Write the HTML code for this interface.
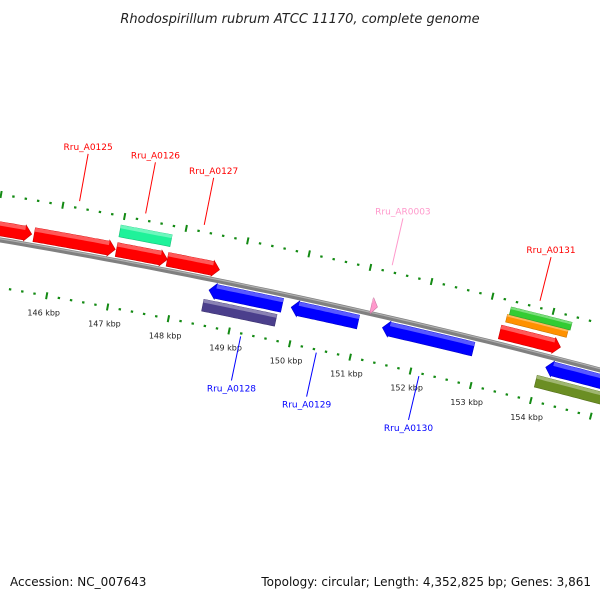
<!DOCTYPE html>
<html><head><meta charset="utf-8"><style>
html,body{margin:0;padding:0;background:#fff;}
svg{display:block;font-family:"DejaVu Sans","Liberation Sans",sans-serif;}
</style></head><body>
<svg id="map" width="600" height="600" viewBox="0 0 600 600">
<text x="300" y="23" text-anchor="middle" font-size="13" font-style="italic" fill="#222">Rhodospirillum rubrum ATCC 11170, complete genome</text>
<g id="ticks"></g>
<g id="genes"></g>
<g id="labels"></g>
<text x="10" y="586" font-size="12" fill="#111">Accession: NC_007643</text>
<text x="591" y="586" text-anchor="end" font-size="12" fill="#111">Topology: circular; Length: 4,352,825 bp; Genes: 3,861</text>
</svg>
<script>
// data
const tickStart = 143.0, tickEnd = 156.0, tickStep = 0.2;
const tickLabelMax = 154.5;
const geneNames = ['g1','Rru_A0125','Rru_A0126','Rru_A0127','teal','Rru_A0128','purple','Rru_A0129','Rru_A0130','Rru_A0131','orange','green','g14','olive','Rru_AR0003'];
const geneStarts = [144.3,145.63,146.97,147.8,146.97,148.55,148.5,149.9,151.4,153.25,153.3,153.33,154.1,154.0,151.15];
const geneEnds   = [145.59,146.95,147.8,148.65,147.8,149.75,149.7,151.0,152.9,154.25,154.3,154.33,155.6,155.6,151.25];
const geneStrand = [1,1,1,1,0,-1,0,-1,-1,1,0,0,-1,0,1];
const geneRing   = [11,11,11,11,30,-11,-27,-11,-11,12,27,35,-11,-27,8];
const geneColors = ['#ff0000','#ff0000','#ff0000','#ff0000','#1ff29a','#0000ff','#4b3f8c','#0000ff','#0000ff','#ff0000','#ff9100','#33cc33','#0000ff','#6b8e23','#ff99cc'];
const labelTexts = ['Rru_A0125','Rru_A0126','Rru_A0127','Rru_AR0003','Rru_A0131','Rru_A0128','Rru_A0129','Rru_A0130'];
const labelKbp   = [146.25,147.32,148.27,151.33,153.75,149.2,150.45,152.15];
const labelSide  = [1,1,1,1,1,-1,-1,-1];
const labelColors= ['#ff0000','#ff0000','#ff0000','#ff99cc','#ff0000','#0000ff','#0000ff','#0000ff'];
const labelLines = [48,52,48,48,45,45,45,45];

const NS='http://www.w3.org/2000/svg';
const CX=-1157.5, CY=7032, R=6890, T0=-1.3939, TK=0.00905;
function th(k){return T0+(k-146)*TK;}
function pt(k,off){const t=th(k);return [CX+(R+off)*Math.cos(t),CY+(R+off)*Math.sin(t)];}
function mk(tag,attrs,parent){const e=document.createElementNS(NS,tag);for(const a in attrs)e.setAttribute(a,attrs[a]);parent.appendChild(e);return e;}
const tg=document.getElementById('ticks'), gg=document.getElementById('genes'), lg=document.getElementById('labels');

function arcPath(k1,k2,off){let d='';const n=60;for(let i=0;i<=n;i++){const p=pt(k1+(k2-k1)*i/n,off);d+=(i?'L':'M')+p[0].toFixed(1)+','+p[1].toFixed(1);}return d;}
const bb=mk('path',{d:arcPath(143,156.5,0),stroke:'#808080','stroke-width':5,fill:'none'},gg);


const bb2=mk('path',{d:arcPath(143,156.5,1.2),stroke:'#b0b0b0','stroke-width':1.2,fill:'none'},gg);



const nT=Math.round((tickEnd-tickStart)/tickStep);
for(let i=0;i<=nT;i++){
  const k=tickStart+i*tickStep;
  const major=Math.abs(k-Math.round(k))<1e-6;
  [45,-47].forEach(off=>{
    const len=major?7:2.2;
    const a=pt(k,off-len/2), b=pt(k,off+len/2);
    const l=mk('line',{x1:a[0],y1:a[1],x2:b[0],y2:b[1],stroke:'#138a13','stroke-width':major?2:2.4},tg);
    
    
  });
  if(major && k<=tickLabelMax){
    const p=pt(k,-64);
    const t=mk('text',{x:p[0],y:p[1]+3,'text-anchor':'middle','font-size':8,fill:'#222'},tg);
    t.textContent=Math.round(k)+' kbp';
    
    
  }
}

function shade(hex,f){const n=parseInt(hex.slice(1),16);let r=n>>16,g=(n>>8)&255,b=n&255;r=Math.round(r+(255-r)*f);g=Math.round(g+(255-g)*f);b=Math.round(b+(255-b)*f);return 'rgb('+r+','+g+','+b+')';}
function dark(hex,f){const n=parseInt(hex.slice(1),16);return 'rgb('+Math.round((n>>16)*f)+','+Math.round(((n>>8)&255)*f)+','+Math.round((n&255)*f)+')';}
for(let i=0;i<geneNames.length;i++){
  const k1=geneStarts[i],k2=geneEnds[i],s=geneStrand[i],r=geneRing[i];
  const h=(s===0)?(r===27||r===35?8:12):14;
  const headK=Math.min(7/R/TK,(k2-k1)*0.9);
  let pts=[];
  const n=20;
  if(s===0){
    for(let j=0;j<=n;j++)pts.push(pt(k1+(k2-k1)*j/n,r+h/2));
    for(let j=n;j>=0;j--)pts.push(pt(k1+(k2-k1)*j/n,r-h/2));
  }else if(s===1){
    const kb=k2-headK;
    for(let j=0;j<=n;j++)pts.push(pt(k1+(kb-k1)*j/n,r+h/2));
    pts.push(pt(kb,r+h/2+1));pts.push(pt(k2,r));pts.push(pt(kb,r-h/2-1));
    for(let j=n;j>=0;j--)pts.push(pt(k1+(kb-k1)*j/n,r-h/2));
  }else{
    const kb=k1+headK;
    pts.push(pt(k1,r));pts.push(pt(kb,r+h/2+1));
    for(let j=0;j<=n;j++)pts.push(pt(kb+(k2-kb)*j/n,r+h/2));
    for(let j=n;j>=0;j--)pts.push(pt(kb+(k2-kb)*j/n,r-h/2));
    pts.push(pt(kb,r-h/2-1));
  }
  const g=mk('g',{},gg);
  
  
  mk('polygon',{points:pts.map(p=>p[0].toFixed(1)+','+p[1].toFixed(1)).join(' '),fill:geneColors[i],stroke:dark(geneColors[i],0.8),'stroke-width':0.6},g);
  const a=(s===-1)?k1+headK:k1, b=(s===1)?k2-headK:k2;
  let hp=[];
  for(let j=0;j<=n;j++)hp.push(pt(a+(b-a)*j/n,r+h/2));
  for(let j=n;j>=0;j--)hp.push(pt(a+(b-a)*j/n,r+h/2-h*0.28));
  mk('polygon',{points:hp.map(p=>p[0].toFixed(1)+','+p[1].toFixed(1)).join(' '),fill:shade(geneColors[i],0.35)},g);
}

for(let i=0;i<labelTexts.length;i++){
  const k=labelKbp[i],side=labelSide[i];
  const o1=side>0?52:-50, o2=o1+side*labelLines[i];
  const a=pt(k,o1),b=pt(k,o2);
  const l=mk('line',{x1:a[0],y1:a[1],x2:b[0],y2:b[1],stroke:labelColors[i],'stroke-width':1},lg);
  
  
  const t=mk('text',{x:b[0],y:side>0?b[1]-4:b[1]+11,'text-anchor':'middle','font-size':9,fill:labelColors[i]},lg);
  t.textContent=labelTexts[i];
  
  
}
</script>
</body></html>
